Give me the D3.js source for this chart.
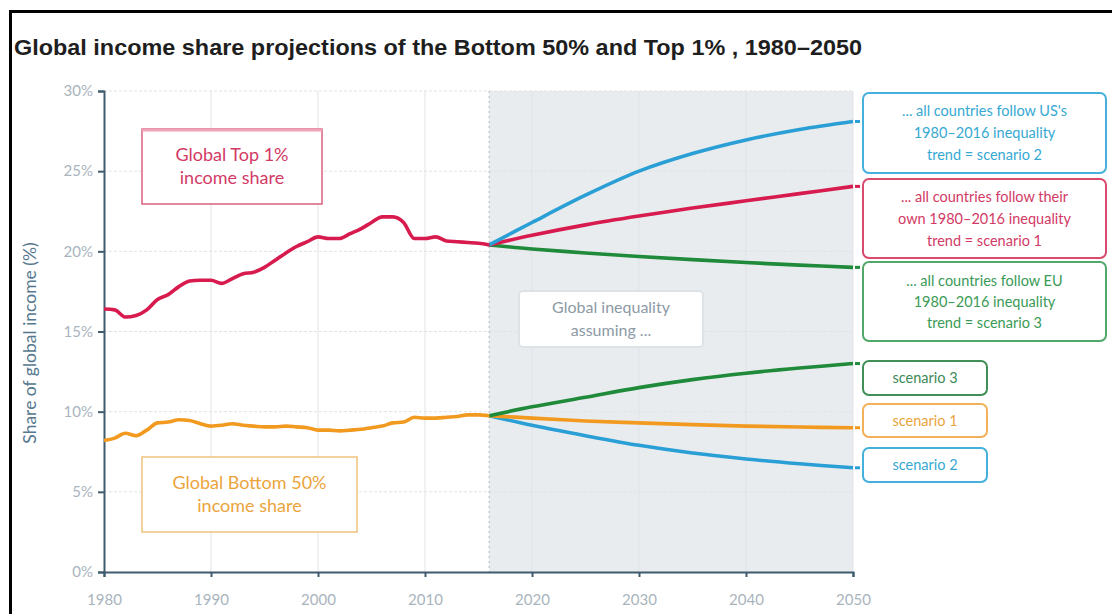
<!DOCTYPE html>
<html><head><meta charset="utf-8">
<script src="https://cdn.jsdelivr.net/npm/d3@7"></script>
<style>
html,body{margin:0;padding:0;background:#fff;}
svg{display:block;}
text{font-family:Lato,"Open Sans",sans-serif;}
</style></head>
<body>
<svg id="c" width="1112" height="614"></svg>
<script>
// ---- data ----
const histYears = d3.range(1980, 2017);
const top1Hist = [16.4,16.35,15.9,16.0,16.35,17.0,17.3,17.8,18.15,18.2,18.2,18.0,18.3,18.6,18.7,19.0,19.45,19.9,20.3,20.6,20.9,20.8,20.8,21.1,21.4,21.8,22.15,22.15,21.8,20.8,20.8,20.9,20.65,20.6,20.55,20.5,20.4];
const bot50Hist = [8.2,8.35,8.65,8.5,8.85,9.3,9.35,9.5,9.45,9.25,9.1,9.15,9.25,9.15,9.1,9.05,9.05,9.1,9.05,9.0,8.85,8.85,8.8,8.85,8.9,9.0,9.1,9.3,9.35,9.65,9.6,9.6,9.65,9.7,9.8,9.8,9.75];
const projYears = [2016,2020,2025,2030,2035,2040,2045,2050];
const top1Scen1 = [20.4,21.0,21.65,22.2,22.7,23.15,23.6,24.05];
const top1Scen2 = [20.4,21.8,23.5,25.0,26.1,26.95,27.6,28.1];
const top1Scen3 = [20.4,20.15,19.9,19.68,19.48,19.3,19.14,19.0];
const bot50Scen1 = [9.75,9.6,9.42,9.3,9.19,9.1,9.04,9.0];
const bot50Scen2 = [9.75,9.15,8.5,7.9,7.42,7.05,6.75,6.5];
const bot50Scen3 = [9.75,10.3,10.9,11.5,12.0,12.4,12.72,13.0];
const yTicks = [0,5,10,15,20,25,30];
const xTicks = [1980,1990,2000,2010,2020,2030,2040,2050];
const projStart = 2016;

const title = "Global income share projections of the Bottom 50% and Top 1% , 1980–2050";
const yTitle = "Share of global income (%)";

// ---- colours ----
const C = {red:"#d81b4f", orange:"#f29a1f", blue:"#2a9fd6", green:"#1f8a3a",
  redTxt:"#d23a66", orangeTxt:"#eba43c", blueTxt:"#36a9d2", greenTxt:"#3a9a56"};

const svg = d3.select("#c");
const x = d3.scaleLinear().domain([1980,2050]).range([104,853]);
const y = d3.scaleLinear().domain([0,30]).range([572,91]);

// frame
svg.append("rect").attr("x",10.5).attr("y",11.5).attr("width",1120).attr("height",700)
  .attr("fill","none").attr("stroke","#000").attr("stroke-width",3);

// title
svg.append("text").attr("x",14).attr("y",55).text(title)
  .style("font-family","'Liberation Sans Narrow','Arial Narrow','Liberation Sans',sans-serif")
  .attr("font-weight","bold").attr("font-size",22).attr("fill","#1e1e1e")
  .attr("textLength",848).attr("lengthAdjust","spacingAndGlyphs");

// shaded projection region
svg.append("rect").attr("x",x(projStart)).attr("y",y(30))
  .attr("width",x(2050)-x(projStart)).attr("height",y(0)-y(30)).attr("fill","#e8ecef");

// grid
const g = svg.append("g");
g.selectAll(".hg").data(yTicks.filter(d=>d>0)).join("line")
  .attr("x1",x(1980)).attr("x2",x(2050)).attr("y1",d=>y(d)).attr("y2",d=>y(d))
  .attr("stroke","#dfe3e6").attr("stroke-width",1).attr("stroke-dasharray","3,2");
g.selectAll(".vg").data(xTicks.filter(d=>d>1980)).join("line")
  .attr("x1",d=>x(d)).attr("x2",d=>x(d)).attr("y1",y(30)).attr("y2",y(0))
  .attr("stroke","#dfe3e6").attr("stroke-width",1);
g.append("line").attr("x1",x(projStart)).attr("x2",x(projStart)).attr("y1",y(30)).attr("y2",y(0))
  .attr("stroke","#b8c0c6").attr("stroke-width",1.2).attr("stroke-dasharray","2,3");

// axes
const yAxis = svg.append("g").attr("transform",`translate(${x(1980)},0)`)
  .call(d3.axisLeft(y).tickValues(yTicks).tickFormat(d=>d+"%").tickSize(6).tickPadding(5));
const xAxis = svg.append("g").attr("transform",`translate(0,${y(0)})`)
  .call(d3.axisBottom(x).tickValues(xTicks).tickFormat(d3.format("d")).tickSize(5).tickPadding(17));
[yAxis,xAxis].forEach(a=>{
  a.select(".domain").attr("stroke","#3f5b6e").attr("stroke-width",2);
  a.selectAll(".tick line").attr("stroke","#3f5b6e").attr("stroke-width",2);
  a.selectAll(".tick text").attr("fill","#a9b4bd").attr("font-size",15)
   .style("font-family","Lato,sans-serif");
});

// y title
svg.append("text").attr("transform","translate(36,343) rotate(-90)")
  .attr("text-anchor","middle").attr("font-size",17.5).attr("fill","#56788e").text(yTitle);

// lines
const lineH = d3.line().x(d=>x(d[0])).y(d=>y(d[1])).curve(d3.curveMonotoneX);
const lineP = d3.line().x(d=>x(d[0])).y(d=>y(d[1])).curve(d3.curveCatmullRom.alpha(0.5));
const zip = (xs,vs)=>xs.map((t,i)=>[t,vs[i]]);
const series = [
  [projYears,top1Scen3,C.green,lineP],[projYears,top1Scen1,C.red,lineP],[projYears,top1Scen2,C.blue,lineP],
  [projYears,bot50Scen2,C.blue,lineP],[projYears,bot50Scen1,C.orange,lineP],[projYears,bot50Scen3,C.green,lineP],
  [histYears,top1Hist,C.red,lineH],[histYears,bot50Hist,C.orange,lineH]
];
series.forEach(([xs,vs,col,ln])=>{
  svg.append("path").attr("d",ln(zip(xs,vs))).attr("fill","none")
    .attr("stroke",col).attr("stroke-width",3.6).attr("stroke-linejoin","round");
});

// leader dashes at line ends
[[top1Scen2,C.blue],[top1Scen1,C.red],[top1Scen3,C.green],[bot50Scen3,C.green],[bot50Scen1,C.orange],[bot50Scen2,C.blue]]
.forEach(([vs,col])=>{
  const v = vs[vs.length-1];
  svg.append("line").attr("x1",x(2050)+2).attr("x2",x(2050)+7).attr("y1",y(v)).attr("y2",y(v))
    .attr("stroke",col).attr("stroke-width",3);
});

// label boxes
function box(x0,y0,w,h,stroke,lines,col,fs,lh,rx,fill){
  svg.append("rect").attr("x",x0).attr("y",y0).attr("width",w).attr("height",h).attr("rx",rx)
    .attr("fill",fill||"#fff").attr("stroke",stroke).attr("stroke-width",rx?2:1.5);
  const cy = y0+h/2 - (lines.length-1)*lh/2;
  lines.forEach((t,i)=>{
    svg.append("text").attr("x",x0+w/2).attr("y",cy+i*lh).attr("dy","0.35em")
      .attr("text-anchor","middle").attr("font-size",fs).attr("fill",col).text(t);
  });
}
box(142,129,180,75,"#d9607f",["Global Top 1%","income share"],C.redTxt,18,23,0);
svg.append("line").attr("x1",142).attr("x2",322).attr("y1",130).attr("y2",130).attr("stroke","#eea3b8").attr("stroke-width",3);
box(142,457,215,75,"#f0c27a",["Global Bottom 50%","income share"],C.orangeTxt,18,23,0);
box(519,291,184,56,"#dde2e6",["Global inequality","assuming ..."],"#8d9aa6",16,23,4);

box(863,93,243,80,"#45b0dc",["... all countries follow US's","1980–2016 inequality","trend = scenario 2"],C.blueTxt,14.5,22,6);
box(863,179,243,79,"#d84a6e",["... all countries follow their","own 1980–2016 inequality","trend = scenario 1"],C.redTxt,14.5,22,6);
box(863,262,243,79,"#52a86a",["... all countries follow EU","1980–2016 inequality","trend = scenario 3"],C.greenTxt,14.5,21,6);
box(863,361,124,34,"#3f8f56",["scenario 3"],"#3c8a55",14.5,0,6);
box(863,404,124,33,"#f2b05a",["scenario 1"],C.orangeTxt,14.5,0,6);
box(863,448,124,34,"#45b0dc",["scenario 2"],C.blueTxt,14.5,0,6);
</script>
</body></html>
